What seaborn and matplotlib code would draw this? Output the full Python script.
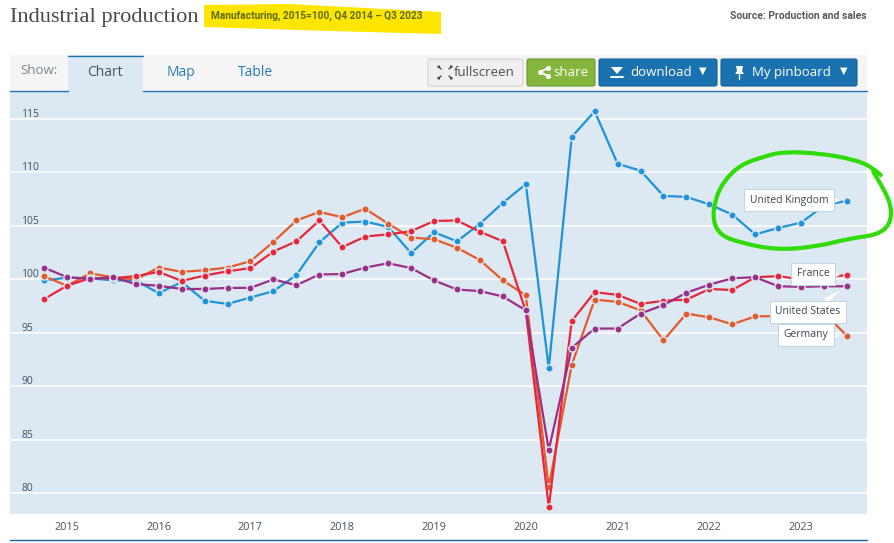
import matplotlib
matplotlib.use("Agg")
import matplotlib.pyplot as plt
import numpy as np
import pandas as pd
import seaborn as sns
from matplotlib.patches import FancyBboxPatch, PathPatch, Polygon, Rectangle
from matplotlib.path import Path
from matplotlib.transforms import ScaledTranslation

# ---- data, Q4 2014 to Q3 2023 ----
quarters = list(range(36))
year_ticks = [1, 5, 9, 13, 17, 21, 25, 29, 33]
year_labels = ["2015", "2016", "2017", "2018", "2019", "2020", "2021", "2022", "2023"]
y_ticks = [80, 85, 90, 95, 100, 105, 110, 115]

uk = [99.9, 100.15, 100.1, 99.9, 99.9, 98.7, 99.75, 98.0, 97.7, 98.3, 98.9, 100.4,
      103.45, 105.3, 105.4, 104.9, 102.45, 104.4, 103.55, 105.2, 107.15, 108.9, 91.7, 113.3,
      115.7, 110.8, 110.15, 107.8, 107.7, 107.0, 106.05, 104.2, 104.8, 105.3, 106.9, 107.35]
germany = [100.3, 99.4, 100.55, 100.2, 100.0, 101.1, 100.7, 100.85, 101.1, 101.7, 103.5, 105.5,
           106.3, 105.8, 106.6, 105.2, 103.9, 103.75, 102.95, 101.8, 99.9, 98.5, 80.6, 92.0,
           98.1, 97.9, 97.1, 94.3, 96.8, 96.45, 95.8, 96.55, 96.55, 96.5, 96.9, 94.7]
france = [98.15, 99.4, 100.1, 100.1, 100.3, 100.7, 99.85, 100.35, 100.75, 101.05, 102.6, 103.55,
          105.5, 103.0, 104.0, 104.2, 104.5, 105.45, 105.5, 104.45, 103.55, 97.0, 78.7, 96.1,
          98.8, 98.55, 97.7, 98.0, 98.1, 99.1, 99.0, 100.2, 100.3, 100.0, 100.2, 100.4]
usa = [101.1, 100.2, 100.05, 100.2, 99.55, 99.4, 99.1, 99.1, 99.2, 99.2, 100.0, 99.45,
       100.45, 100.5, 101.1, 101.5, 101.05, 99.9, 99.05, 98.9, 98.4, 97.1, 84.05, 93.6,
       95.4, 95.4, 96.8, 97.6, 98.75, 99.5, 100.1, 100.2, 99.35, 99.3, 99.35, 99.35]

countries = ["United Kingdom", "Germany", "France", "United States"]
colors = {"United Kingdom": "#1e93d9", "Germany": "#e35a2b", "France": "#e8263a", "United States": "#9a2f88"}

df = pd.DataFrame({
    "quarter": quarters * 4,
    "value": uk + germany + france + usa,
    "country": np.repeat(countries, 36),
})

BG = "#dde9f2"
TEXT = "#44525e"
W, H = 895, 543

sns.set_theme(style="white")
plt.rcParams["font.family"] = ["Open Sans", "DejaVu Sans"]

fig = plt.figure(figsize=(W / 100, H / 100), dpi=100, facecolor="white")

# ---- chart, placed by pixel box x 10-867, y 91-514 ----
ax = fig.add_axes([10 / W, 1 - 514 / H, 857 / W, 423 / H], facecolor=BG)
sns.lineplot(data=df, x="quarter", y="value", hue="country", hue_order=countries, palette=colors,
             marker="o", markersize=5.2, markeredgecolor=BG, markeredgewidth=1.0, linewidth=1.6,
             legend=False, errorbar=None, ax=ax, clip_on=False, zorder=3)
ax.set_xlim(-1.482, 35.87)
ax.set_ylim(78.07, 117.6)
ax.set_xlabel("")
ax.set_ylabel("")
ax.set_xticks(year_ticks)
ax.set_xticklabels(year_labels, fontsize=7.8, color=TEXT)
ax.set_yticks(y_ticks)
ax.set_yticklabels([str(t) for t in y_ticks], fontsize=7.5, color=TEXT, ha="left", va="center")
ax.tick_params(axis="x", direction="in", length=4, width=1.2, color="white", pad=6)
ax.tick_params(axis="y", length=0, pad=-8)
# y labels sit just above their gridlines
for lab in ax.get_yticklabels():
    lab.set_transform(lab.get_transform() + ScaledTranslation(0, 0.045, fig.dpi_scale_trans))
ax.grid(axis="y", color="white", linewidth=1.1)
ax.set_axisbelow(True)
for s in ax.spines.values():
    s.set_visible(False)

# callouts at the line ends
callouts = [("United Kingdom", uk, 789, 200), ("France", france, 813, 274),
            ("United States", usa, 808, 312), ("Germany", germany, 806, 335)]
for name, series, tx, ty in callouts:
    ax.annotate(name, xy=(quarters[-1], series[-1]), xytext=(tx, H - ty), textcoords="figure pixels",
                ha="center", va="center", fontsize=7.5, color="#3c4753", zorder=6,
                bbox=dict(boxstyle="square,pad=0.55", fc="white", ec="#c3d6e4", lw=0.8),
                arrowprops=dict(arrowstyle="wedge,tail_width=0.5,shrink_factor=0.5", fc="white", ec="none",
                                shrinkA=0, shrinkB=5))

# ---- page furniture in pixel coordinates ----
page = fig.add_axes([0, 0, 1, 1], zorder=5)
page.set_xlim(0, W)
page.set_ylim(H, 0)
page.axis("off")

page.add_patch(Polygon([(204, 5), (290, 4), (441, 12), (441, 34), (330, 31), (204, 27)], fc="#ffe600", ec="none"))
page.text(10, 22, "Industrial production", family="Liberation Serif", fontsize=16.1, color="#4f4a45", va="baseline")
page.text(211, 16, "Manufacturing, 2015=100, Q4 2014 – Q3 2023", family="Roboto", fontsize=7.3,
          fontweight="bold", color="#5f6b00", va="center")
page.text(867, 16, "Source: Production and sales", family="Roboto", fontsize=7.5, fontweight="bold",
          color="#555b60", va="center", ha="right")

# tab bar
page.add_patch(Rectangle((10, 55), 857, 35, fc="#f5f5f5", ec="none"))
page.add_patch(Rectangle((68, 55), 75, 36, fc=BG, ec="none"))
page.plot([68, 143], [55.5, 55.5], color="#1a72b0", lw=1)
page.plot([10, 68], [90.5, 90.5], color="#1a72b0", lw=1)
page.plot([143, 867], [90.5, 90.5], color="#1a72b0", lw=1)
page.text(20, 71, "Show:", fontsize=9.5, color="#7b858d", va="center")
page.text(105, 73, "Chart", fontsize=10, color="#48545e", va="center", ha="center")
page.text(181, 73, "Map", fontsize=10, color="#2a7ab5", va="center", ha="center")
page.text(255, 73, "Table", fontsize=10, color="#2a7ab5", va="center", ha="center")


def button(x0, x1, fc, ec):
    page.add_patch(FancyBboxPatch((x0 + 1, 60), x1 - x0 - 2, 25, boxstyle="round,pad=1,rounding_size=2",
                                  fc=fc, ec=ec, lw=0.8))


button(428, 523, "#f0f0f0", "#d3d3d3")
button(527, 595, "#84b53c", "#6c9a2c")
button(599, 717, "#1a72b0", "#155f94")
button(721, 857, "#1a72b0", "#155f94")
page.text(454, 72, "fullscreen", fontsize=9.5, color="#4a4f53", va="center")
page.text(553, 72, "share", fontsize=9.5, color="white", va="center")
page.text(630, 72, "download", fontsize=9.5, color="white", va="center")
page.text(752, 72.5, "My pinboard", fontsize=9.5, color="white", va="center")
page.text(703, 71, "▼", fontsize=7, color="white", va="center", ha="center", family="DejaVu Sans")
page.text(844, 71, "▼", fontsize=7, color="white", va="center", ha="center", family="DejaVu Sans")

# button icons
for cx, cy, dx, dy in [(441, 69, -1, -1), (449, 69, 1, -1), (441, 76, -1, 1), (449, 76, 1, 1)]:
    page.add_patch(Polygon([(cx + dx, cy + dy), (cx + dx * 4, cy + dy), (cx + dx, cy + dy * 4)], fc="#3f4448", ec="none"))
    page.plot([cx, cx + dx * 3], [cy, cy + dy * 3], color="#3f4448", lw=1)
page.plot([548, 540, 548], [68, 72, 76], color="white", lw=1.4, marker="o", ms=2.6)
page.add_patch(Polygon([(611, 67), (623, 67), (617, 74)], fc="white", ec="none"))
page.plot([611, 623], [77, 77], color="white", lw=1.4)
page.add_patch(Polygon([(736, 66), (743, 66), (742, 71), (744, 74), (735, 74), (737, 71)], fc="white", ec="none"))
page.plot([739.5, 739.5], [74, 79], color="white", lw=1)

# page bottom rule
page.plot([10, 867], [539.5, 539.5], color="#1a6299", lw=1)

# green hand-drawn ring round the UK end of the line
ring = np.array([(1142, 225), (1115, 200), (1060, 178), (960, 160), (850, 155), (790, 170), (720, 195),
                 (670, 245), (645, 300), (638, 360), (660, 405), (720, 428), (830, 450), (950, 440),
                 (1050, 415), (1130, 405), (1170, 375), (1175, 320), (1150, 265), (1125, 225), (1115, 205)],
                dtype=float) / 3 + (500, 100)
verts = [tuple(ring[0])]
codes = [Path.MOVETO]
for i in range(1, len(ring) - 1):
    verts += [tuple(ring[i]), tuple((ring[i] + ring[i + 1]) / 2)]
    codes += [Path.CURVE3, Path.CURVE3]
page.add_patch(PathPatch(Path(verts, codes), fc="none", ec="#2fdc05", lw=3, capstyle="round"))

fig.savefig("out.png", dpi=100)
